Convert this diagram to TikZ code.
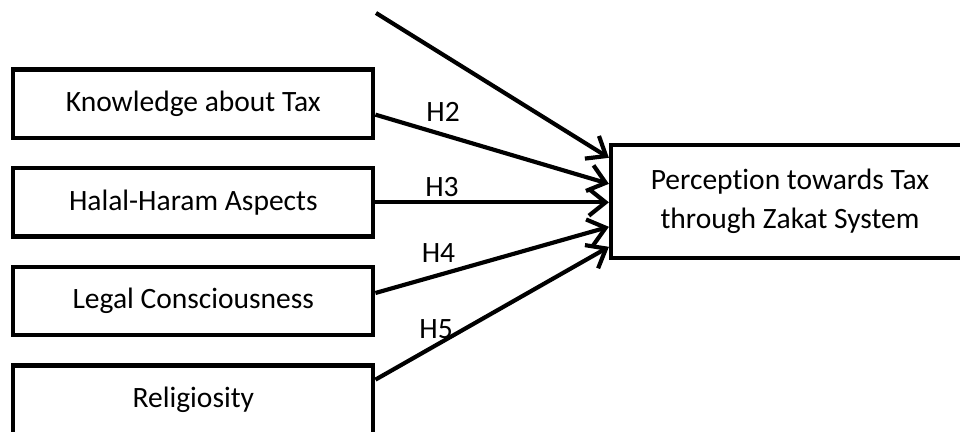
\documentclass[tikz,border=0pt]{standalone}
\usepackage{fontspec}
\setmainfont{Carlito}[Ligatures=NoCommon]
\usetikzlibrary{arrows.meta}
\tikzstyle{factor} = [rectangle, minimum width=10.8cm, minimum height=2.05cm, inner sep=0.2cm, text centered, draw=black, line width=0.125cm]
\tikzstyle{outcome} = [rectangle, minimum width=10.74cm, minimum height=3.39cm, inner sep=0.2cm, align=center, draw=black, line width=0.125cm]
\tikzstyle{arrow} = [line width=0.125cm, -{Straight Barb[length=0.5cm, width=0.8cm]}]
\tikzstyle{hyp} = [above, inner sep=0.12cm]

\begin{document}
\begin{tikzpicture}[node distance=2.96cm, font=\fontsize{25.2}{33.5}\selectfont]
        \useasboundingbox (0,0) rectangle (28.8,12.96);
        \clip (0,0) rectangle (28.8,12.96);
        \node (know) [factor] at (5.8,9.85) {Knowledge about Tax};
        \node (halal) [factor, below of=know] {Halal-Haram Aspects};
        \node (legal) [factor, below of=halal] {Legal Consciousness};
        \node (relig) [factor, below of=legal] {Religiosity};
        \node (perc) [outcome, right of=halal, xshift=14.94cm, yshift=0.03cm] {Perception towards Tax\\through Zakat System};
        \coordinate (top) at (11.28,12.57);

        \draw[arrow] (top) -- ([yshift=1.305cm]perc.west);
        \draw[arrow] ([yshift=-0.33cm]know.east) -- node[hyp, pos=0.29, yshift=0.2cm] {H2} ([yshift=0.525cm]perc.west);
        \draw[arrow] (halal.east) -- node[hyp, pos=0.285] {H3} (halal.east -| perc.west);
        \draw[arrow] ([yshift=0.24cm]legal.east) -- node[hyp, pos=0.27, yshift=0.2cm] {H4} ([yshift=-0.765cm]perc.west);
        \draw[arrow] ([yshift=0.6cm]relig.east) -- node[hyp, pos=0.26] {H5} ([yshift=-1.365cm]perc.west);
    \end{tikzpicture}
\end{document}
